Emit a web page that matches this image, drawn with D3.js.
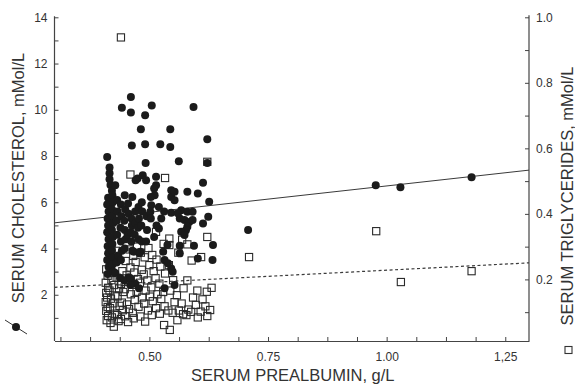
<!DOCTYPE html>
<html><head><meta charset="utf-8">
<script src="https://cdn.jsdelivr.net/npm/d3@7"></script>
<style>
html,body{margin:0;padding:0;background:#fff;}
svg{display:block;font-family:"Liberation Sans",Arial,sans-serif;}
</style></head><body>
<svg id="chart" width="575" height="385"></svg>
<script>
// ---- data ----
const xTickValues = [0.50, 0.75, 1.00, 1.25];
const xTickLabels = ["0.50", "0.75", "1.00", "1,25"];
const yLeftTickValues = [2, 4, 6, 8, 10, 12, 14];
const yRightTickValues = [0.2, 0.4, 0.6, 0.8, 1.0];
const xLabel = "SERUM PREALBUMIN, g/L";
const yLeftLabel = "SERUM CHOLESTEROL, mMol/L";
const yRightLabel = "SERUM TRIGLYCERIDES, mMol/L";

// cholesterol (filled circles): [prealbumin g/L, cholesterol]
const cholesterol = [
 [0.461,10.55],[0.442,10.09],[0.461,9.88],[0.491,9.76],[0.505,10.19],[0.593,10.12],[0.482,9.16],[0.544,9.16],
 [0.463,8.45],[0.491,8.51],[0.523,8.51],[0.544,8.39],[0.411,7.96],[0.492,7.70],[0.562,7.77],[0.622,8.73],[0.622,7.70],
 [0.416,7.5],[0.416,7.25],[0.416,7.0],[0.418,6.75],[0.421,6.5],[0.475,7.03],[0.486,7.17],[0.493,6.95],[0.471,6.95],
 [0.514,7.1],[0.514,6.74],[0.428,6.74],[0.546,6.52],[0.546,6.23],[0.58,6.45],[0.602,6.38],[0.613,6.84],
 [0.464,6.23],[0.511,6.3],[0.51,6.6],[0.553,6.45],[0.553,6.09],[0.626,6.02],[0.52,5.8],[0.531,5.6],[0.546,5.55],
 [0.567,5.66],[0.58,5.59],[0.591,5.59],[0.564,5.3],[0.574,5.23],[0.584,5.15],[0.58,4.94],[0.577,4.79],[0.624,5.37],
 [0.613,5.08],[0.52,4.87],[0.591,5.23],[0.56,5.52],[0.567,4.72],[0.574,4.58],
 [0.413,6.2],[0.411,5.9],[0.414,5.6],[0.412,5.3],[0.413,5.0],[0.411,4.7],[0.414,4.4],[0.412,4.1],[0.413,3.8],[0.411,3.5],[0.414,3.2],[0.412,2.9],
 [0.422,6.3],[0.423,6.0],[0.421,5.7],[0.422,5.4],[0.424,5.1],[0.421,4.8],[0.423,4.5],[0.422,4.2],[0.421,3.9],[0.423,3.6],[0.422,3.3],[0.424,3.0],
 [0.432,6.1],[0.433,5.6],[0.431,5.2],[0.432,4.6],[0.434,3.7],[0.431,3.4],
 [0.44,5.9],[0.441,5.4],[0.439,4.9],[0.44,4.3],[0.442,3.9],[0.44,3.5],
 [0.448,6.3],[0.449,5.7],[0.447,5.2],[0.448,4.8],[0.45,4.4],[0.448,4.0],
 [0.455,5.95],[0.456,5.5],[0.454,4.6],
 [0.462,5.3],[0.463,5.0],[0.461,4.7],[0.462,4.3],[0.464,3.9],
 [0.47,5.6],[0.471,5.1],[0.469,4.6],
 [0.477,5.8],[0.478,5.3],[0.476,4.9],[0.477,4.4],[0.479,3.8],
 [0.484,6.0],[0.485,5.6],[0.483,5.0],[0.484,4.3],
 [0.494,5.4],[0.495,4.8],[0.493,4.3],
 [0.503,6.23],[0.504,5.87],[0.502,5.59],[0.503,5.3],[0.51,4.5],[0.515,5.0],[0.525,5.3],
 [0.428,2.94],[0.438,2.72],[0.456,2.76],[0.447,2.63],[0.46,2.71],[0.47,2.49],[0.478,2.28],[0.46,2.42],
 [0.529,3.86],[0.532,3.5],[0.539,3.36],[0.538,4.15],[0.564,4.12],[0.564,3.79],[0.594,4.12],[0.634,4.15],
 [0.602,3.57],[0.633,3.5],[0.546,3.14],[0.549,2.99],[0.553,2.42],[0.532,2.28],[0.467,3.86],[0.481,3.86],
 [0.708,4.8],[0.977,6.74],[1.029,6.65],[1.179,7.08]
];

// triglycerides (open squares), plotted against the left scale as in the figure
const triglycerides = [
 [0.44,13.13],[0.46,7.2],[0.533,7.05],[0.622,7.75],[0.514,4.72],[0.622,4.5],[0.542,4.43],[0.542,4.15],[0.58,4.18],
 [0.42,4.0],[0.43,3.9],
 [0.409,3.1],[0.412,2.82],[0.408,2.52],[0.413,2.3],[0.409,2.08],[0.411,1.88],[0.408,1.68],[0.412,1.47],[0.409,1.3],[0.413,1.08],[0.41,0.9],
 [0.418,3.38],[0.42,2.63],[0.416,2.18],[0.419,1.83],[0.417,1.42],[0.421,1.02],[0.418,0.78],
 [0.426,2.42],[0.428,1.97],[0.424,1.63],[0.427,1.18],[0.425,0.62],
 [0.434,3.58],[0.431,2.74],[0.436,2.27],[0.433,1.93],[0.437,1.52],[0.432,1.12],[0.435,0.86],
 [0.443,3.02],[0.44,2.47],[0.445,2.12],[0.442,1.66],[0.444,1.33],[0.44,0.95],
 [0.45,3.46],[0.452,2.84],[0.448,2.24],[0.453,1.58],[0.449,1.07],[0.455,0.82],
 [0.458,3.96],[0.46,3.18],[0.456,2.58],[0.461,2.02],[0.457,1.38],
 [0.466,3.68],[0.468,2.96],[0.464,2.43],[0.469,1.77],[0.465,1.22],[0.467,0.98],
 [0.474,4.08],[0.471,3.42],[0.476,2.68],[0.473,2.13],[0.477,1.48],
 [0.482,3.82],[0.484,3.08],[0.48,2.52],[0.485,1.88],[0.481,1.06],
 [0.49,3.62],[0.488,2.88],[0.492,2.18],[0.489,1.62],[0.491,0.84],
 [0.498,4.02],[0.5,3.28],[0.496,2.62],[0.501,1.92],[0.497,1.32],
 [0.506,3.72],[0.509,3.02],[0.504,2.32],[0.507,1.72],[0.505,1.12],
 [0.515,3.52],[0.513,2.72],[0.517,2.02],[0.514,1.42],
 [0.523,3.22],[0.521,2.48],[0.525,1.82],[0.522,1.18],
 [0.53,4.2],[0.533,2.92],[0.529,2.12],[0.532,1.5],[0.531,0.69],
 [0.541,3.28],[0.544,2.18],[0.54,1.32],[0.543,0.48],
 [0.55,2.63],[0.553,1.68],[0.549,1.22],
 [0.561,3.82],[0.558,1.98],[0.562,1.32],[0.559,0.9],
 [0.569,4.38],[0.572,2.28],[0.568,1.62],[0.571,1.16],
 [0.58,2.62],[0.582,1.36],[0.578,1.12],
 [0.589,3.48],[0.592,1.88],[0.588,1.26],
 [0.601,2.18],[0.598,1.56],[0.602,1.02],
 [0.609,3.63],[0.612,1.8],[0.608,1.27],
 [0.621,2.13],[0.618,1.5],[0.622,1.08],
 [0.631,2.3],[0.628,1.34],
 [0.71,3.63],[0.978,4.75],[1.03,2.55],[1.179,3.02]
];

// regression lines (data units at the ends of the x range)
const cholesterolFit = [[0.30,5.11],[1.30,7.39]];
const triglycerideFit = [[0.30,2.32],[1.30,3.38]];

// ---- drawing ----
const svg = d3.select("#chart");
const L = 54.5, R = 529, T = 17.3, B = 341;
const x = d3.scaleLinear().domain([0.30, 1.30]).range([L, R]);
const y = d3.scaleLinear().domain([0, 14]).range([B, T]);
const y2 = d3.scaleLinear().domain([0.012, 1.0]).range([B, T]);

const axisCol = "#444", textCol = "#333";

// axes
const xMinor = d3.range(0.3125, 1.26, 0.0625);
svg.append("g").attr("transform", `translate(0,${B})`)
  .call(d3.axisBottom(x).tickValues(xMinor).tickSizeInner(-4).tickSizeOuter(0).tickFormat(""));
const gxl = svg.append("g").attr("transform", `translate(0,${B})`)
  .call(d3.axisBottom(x).tickValues(xTickValues).tickSize(0).tickPadding(11)
    .tickFormat((d,i) => xTickLabels[i]));
gxl.select(".domain").remove();

const gy = svg.append("g").attr("transform", `translate(${L},0)`)
  .call(d3.axisLeft(y).tickValues(d3.range(1, 14.5, 1)).tickSizeInner(-4).tickSizeOuter(0).tickFormat(""));
const gyl = svg.append("g").attr("transform", `translate(${L},0)`)
  .call(d3.axisLeft(y).tickValues(yLeftTickValues).tickSize(0).tickPadding(7).tickFormat(d3.format("d")));
gyl.select(".domain").remove();

const gy2 = svg.append("g").attr("transform", `translate(${R},0)`)
  .call(d3.axisRight(y2).tickValues(d3.range(0.1, 1.05, 0.1)).tickSizeInner(-4).tickSizeOuter(0).tickFormat(""));
const gy2l = svg.append("g").attr("transform", `translate(${R},0)`)
  .call(d3.axisRight(y2).tickValues(yRightTickValues).tickSize(0).tickPadding(7).tickFormat(d3.format(".1f")));
gy2l.select(".domain").remove();

svg.selectAll(".domain").attr("stroke", axisCol).attr("stroke-width", 1.2);
svg.selectAll(".tick line").attr("stroke", axisCol);
svg.selectAll(".tick text").attr("fill", textCol).style("font-size", "12px")
  .style("font-family", '"Liberation Sans",Arial,sans-serif');
gy.select(".domain").attr("d", `M0,${B}V${T-1}`);
gy2.select(".domain").attr("d", `M0,${B}V${T-2}`);

// regression lines
const line = d3.line().x(d => x(d[0])).y(d => y(d[1]));
svg.append("path").attr("d", line(cholesterolFit)).attr("fill", "none")
  .attr("stroke", "#3a3a3a").attr("stroke-width", 1);
svg.append("path").attr("d", line(triglycerideFit)).attr("fill", "none")
  .attr("stroke", "#3a3a3a").attr("stroke-width", 1.2).attr("stroke-dasharray", "3,2.5");

// squares (below), circles (above)
const s = 7.2;
svg.append("g").selectAll("rect").data(triglycerides).join("rect")
  .attr("x", d => x(d[0]) - s/2).attr("y", d => y(d[1]) - s/2)
  .attr("width", s).attr("height", s)
  .attr("fill", "none").attr("stroke", "#2a2a2a").attr("stroke-width", 1.1);
svg.append("g").selectAll("circle").data(cholesterol).join("circle")
  .attr("cx", d => x(d[0])).attr("cy", d => y(d[1])).attr("r", 4)
  .attr("fill", "#1b1b1b");

// axis titles
svg.append("text").attr("x", (L+R)/2 + 1).attr("y", 381).attr("text-anchor", "middle")
  .attr("fill", textCol).style("font-size", "16.5px").text(xLabel);
svg.append("text").attr("transform", "translate(23.5,178) rotate(-90)").attr("text-anchor", "middle")
  .attr("fill", textCol).style("font-size", "16.5px").text(yLeftLabel);
svg.append("text").attr("transform", "translate(572.5,196) rotate(-90)").attr("text-anchor", "middle")
  .attr("fill", textCol).style("font-size", "16.5px").text(yRightLabel);

// legend symbols next to titles
svg.append("line").attr("x1", 5).attr("y1", 320).attr("x2", 27).attr("y2", 334)
  .attr("stroke", "#333").attr("stroke-width", 1);
svg.append("circle").attr("cx", 16).attr("cy", 327).attr("r", 4).attr("fill", "#1b1b1b");
svg.append("line").attr("x1", 561).attr("y1", 319).attr("x2", 563).attr("y2", 324)
  .attr("stroke", "#444").attr("stroke-width", 1);
svg.append("rect").attr("x", 565).attr("y", 346.5).attr("width", 7).attr("height", 7)
  .attr("fill", "none").attr("stroke", "#333").attr("stroke-width", 1.1);
</script>
</body></html>
